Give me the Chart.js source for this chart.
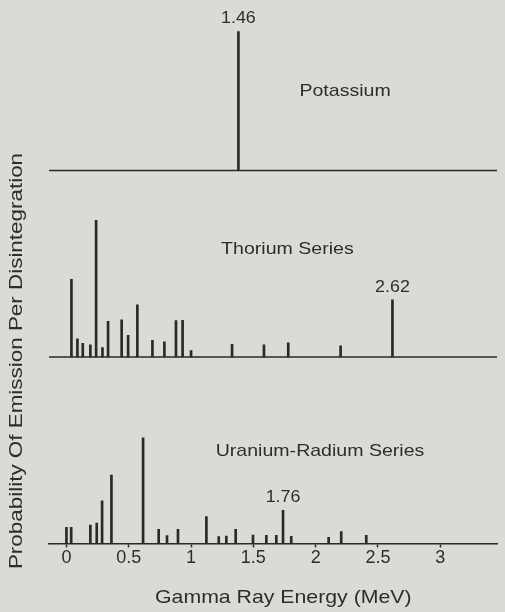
<!DOCTYPE html>
<html>
<head>
<meta charset="utf-8">
<script src="https://cdn.jsdelivr.net/npm/chart.js@4/dist/chart.umd.min.js"></script>
<style>
  html, body { margin: 0; padding: 0; background: #dadbd6; }
  #wrap { width: 505px; height: 612px; position: relative; }
</style>
</head>
<body>
<div id="wrap"><canvas id="c"></canvas></div>
<script>
// ---------- data ----------
const ENERGY_K  = [1.38];                 // MeV
const PROB_K    = [139];                  // relative probability (arbitrary units)

const ENERGY_TH = [0.04, 0.088, 0.131, 0.192, 0.238, 0.289, 0.334, 0.443, 0.495, 0.569,
                   0.690, 0.786, 0.879, 0.932, 1.0, 1.329, 1.585, 1.78, 2.2, 2.616];
const PROB_TH   = [77.7, 18, 13.7, 12, 136.7, 9.3, 35.7, 37, 21.7, 52,
                   16.7, 15, 36.3, 36.7, 6.3, 12.7, 12, 14, 11, 57];

const ENERGY_U  = [0.0, 0.038, 0.192, 0.243, 0.286, 0.361, 0.615, 0.740, 0.807, 0.895,
                   1.123, 1.222, 1.283, 1.358, 1.497, 1.604, 1.684, 1.738, 1.804, 2.104, 2.205, 2.406];
const PROB_U    = [16, 16, 18.3, 20.3, 42.7, 68.3, 105.7, 14, 7.7, 14,
                   26.7, 6.7, 7.3, 14, 8.3, 8, 8, 33, 7, 6, 11.7, 8];

const PANEL_NAMES  = ['Potassium', 'Thorium Series', 'Uranium-Radium Series'];
const PEAK_LABELS  = ['1.46', '2.62', '1.76'];
const PEAK_INDEX   = [0, 19, 17];
const TICK_VALUES  = [0, 0.5, 1, 1.5, 2, 2.5, 3];
const TICK_LABELS  = ['0', '0.5', '1', '1.5', '2', '2.5', '3'];
const X_TITLE = 'Gamma Ray Energy (MeV)';
const Y_TITLE = 'Probability Of Emission Per Disintegration';

// ---------- layout / style ----------
const X_MIN = -0.14, X_MAX = 3.455;
const Y_MAX = 540;
const PANEL_BASE = [373, 186.5, 0];               // vertical offset of each panel's baseline
const PANEL_TITLE_POS = [[2.236, 79.5], [1.773, 108], [2.035, 92.5]]; // [MeV, units above baseline]
const INK = '#2b2828';
const TEXT = '#2e2d2d';
const FONT = '"Liberation Sans", Arial, Helvetica, sans-serif';

const SERIES = [
  { e: ENERGY_K,  p: PROB_K },
  { e: ENERGY_TH, p: PROB_TH },
  { e: ENERGY_U,  p: PROB_U }
];

const datasets = [];
SERIES.forEach((s, i) => {
  const base = PANEL_BASE[i];
  datasets.push({
    type: 'bar',
    label: PANEL_NAMES[i],
    data: s.e.map((e, k) => ({ x: e, y: [base, base + s.p[k]] })),
    backgroundColor: INK,
    borderWidth: 0,
    barThickness: 2,
    grouped: false
  });
  if (base > 0) {
    datasets.push({
      type: 'line',
      label: PANEL_NAMES[i] + ' baseline',
      data: [{ x: X_MIN, y: base }, { x: X_MAX, y: base }],
      borderColor: INK,
      borderWidth: 1.5,
      pointRadius: 0,
      fill: false
    });
  }
});

function stretchedText(ctx, text, x, y, size, stretch, rotate) {
  ctx.save();
  ctx.translate(x, y);
  if (rotate) ctx.rotate(-Math.PI / 2);
  ctx.scale(stretch, 1);
  ctx.font = size + 'px ' + FONT;
  ctx.fillStyle = TEXT;
  ctx.textAlign = 'center';
  ctx.textBaseline = 'middle';
  ctx.fillText(text, 0, 0);
  ctx.restore();
}

const labelPlugin = {
  id: 'labels',
  afterDraw(chart) {
    const ctx = chart.ctx, xs = chart.scales.x, ys = chart.scales.y;
    SERIES.forEach((s, i) => {
      const base = PANEL_BASE[i];
      const k = PEAK_INDEX[i];
      const px = xs.getPixelForValue(s.e[k]);
      const py = ys.getPixelForValue(base + s.p[k]) - 13;
      stretchedText(ctx, PEAK_LABELS[i], px, py, 17, 1.05, false);
      const tp = PANEL_TITLE_POS[i];
      stretchedText(ctx, PANEL_NAMES[i], xs.getPixelForValue(tp[0]), ys.getPixelForValue(base + tp[1]), 17, 1.15, false);
    });
    stretchedText(ctx, X_TITLE, 283.3, 598.3, 18.5, 1.15, false);
    stretchedText(ctx, Y_TITLE, 17, 361, 19, 1.18, true);
  }
};

new Chart(document.getElementById('c'), {
  type: 'bar',
  data: { datasets },
  plugins: [labelPlugin],
  options: {
    responsive: true,
    maintainAspectRatio: false,
    animation: false,
    layout: { padding: { left: 49, right: 8, top: 3.5, bottom: 43 } },
    plugins: { legend: { display: false }, tooltip: { enabled: false } },
    scales: {
      x: {
        type: 'linear',
        offset: false,
        min: X_MIN,
        max: X_MAX,
        afterBuildTicks: (scale) => { scale.ticks = TICK_VALUES.map(v => ({ value: v })); },
        ticks: {
          callback: (v) => TICK_LABELS[TICK_VALUES.indexOf(v)],
          font: { family: FONT, size: 18 },
          color: TEXT,
          padding: 0,
          maxRotation: 0,
          autoSkip: false
        },
        grid: { display: true, offset: false, drawOnChartArea: false, drawTicks: true, tickLength: 4, tickColor: INK, tickWidth: 1.5 },
        border: { display: true, color: INK, width: 1.5 }
      },
      y: {
        display: false,
        min: 0,
        max: Y_MAX
      }
    }
  }
});
</script>
</body>
</html>
